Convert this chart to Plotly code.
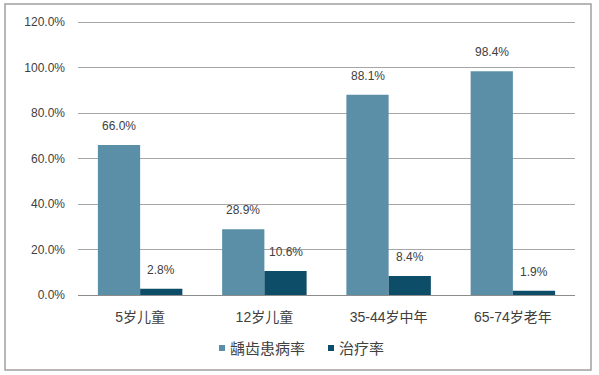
import plotly.graph_objects as go

categories = ["5岁儿童", "12岁儿童", "35-44岁中年", "65-74岁老年"]
caries_rate = [66.0, 28.9, 88.1, 98.4]
treat_rate = [2.8, 10.6, 8.4, 1.9]
series_names = ["龋齿患病率", "治疗率"]
series_colors = ["#5b8fa8", "#0e4d68"]
tick_vals = [0, 20, 40, 60, 80, 100, 120]
tick_text = [f"{v:.1f}%" for v in tick_vals]

FONT = "Liberation Sans, Noto Sans CJK SC, Arial, sans-serif"
TXT = "#404040"

W, H = 599, 375
L, R, T, B = 78, 24, 20, 80
pw, ph = W - L - R, H - T - B
BARGAP = 0.32

fig = go.Figure()
for name, vals, col in zip(series_names, [caries_rate, treat_rate], series_colors):
    fig.add_trace(go.Bar(
        x=categories, y=vals, name=name,
        marker=dict(color=col, line=dict(width=0)),
        showlegend=False,
    ))

def px_x(x):
    return (x - L) / pw

def px_y(y):
    return (H - B - y) / ph

annotations = []
# value labels above bars (offset by half a bar width within each group)
bar_px = pw / len(categories) * (1 - BARGAP) / 2
for i, vals in enumerate([caries_rate, treat_rate]):
    xs = (i - 0.5) * bar_px
    for c, v in zip(categories, vals):
        annotations.append(dict(x=c, y=v, xref="x", yref="y", text=f"{v:.1f}%",
                                showarrow=False, xanchor="center", yanchor="bottom",
                                xshift=xs, yshift=10,
                                font=dict(size=12, color=TXT, family=FONT)))

shapes = [dict(type="rect", xref="paper", yref="paper",
               x0=px_x(5), x1=px_x(591), y0=px_y(370), y1=px_y(4),
               line=dict(color="#a0a0a0", width=1.5), fillcolor="rgba(0,0,0,0)",
               layer="below")]
# custom legend: small squares + labels
leg_x = [219, 328]
leg_y = 348
for name, col, lx in zip(series_names, series_colors, leg_x):
    shapes.append(dict(type="rect", xref="paper", yref="paper",
                       x0=px_x(lx), x1=px_x(lx + 6), y0=px_y(leg_y + 3), y1=px_y(leg_y - 3),
                       line=dict(width=0), fillcolor=col))
    annotations.append(dict(xref="paper", yref="paper", x=px_x(lx + 9), y=px_y(leg_y),
                            xanchor="left", yanchor="middle", text=name, showarrow=False,
                            font=dict(size=15, color=TXT, family=FONT)))

fig.update_layout(
    width=W, height=H,
    margin=dict(l=L, r=R, t=T, b=B, autoexpand=False),
    paper_bgcolor="white", plot_bgcolor="white",
    barmode="group", bargap=BARGAP, bargroupgap=0,
    font=dict(family=FONT, size=12, color=TXT),
    showlegend=False,
    xaxis=dict(showgrid=False, showline=True, linecolor="#8c8c8c", linewidth=1,
               ticks="", ticklabelstandoff=9,
               tickfont=dict(size=14, color=TXT, family=FONT)),
    yaxis=dict(range=[0, 121], tickvals=tick_vals, ticktext=tick_text,
               showgrid=True, gridcolor="#a6a6a6", gridwidth=1, zeroline=False,
               showline=False, ticks="", ticklabelstandoff=12,
               tickfont=dict(size=12, color=TXT, family=FONT)),
    shapes=shapes,
    annotations=annotations,
)

fig.write_html("out.html", config={"displayModeBar": False},
               post_script="document.body.style.margin='0';document.body.style.overflow='hidden';")
